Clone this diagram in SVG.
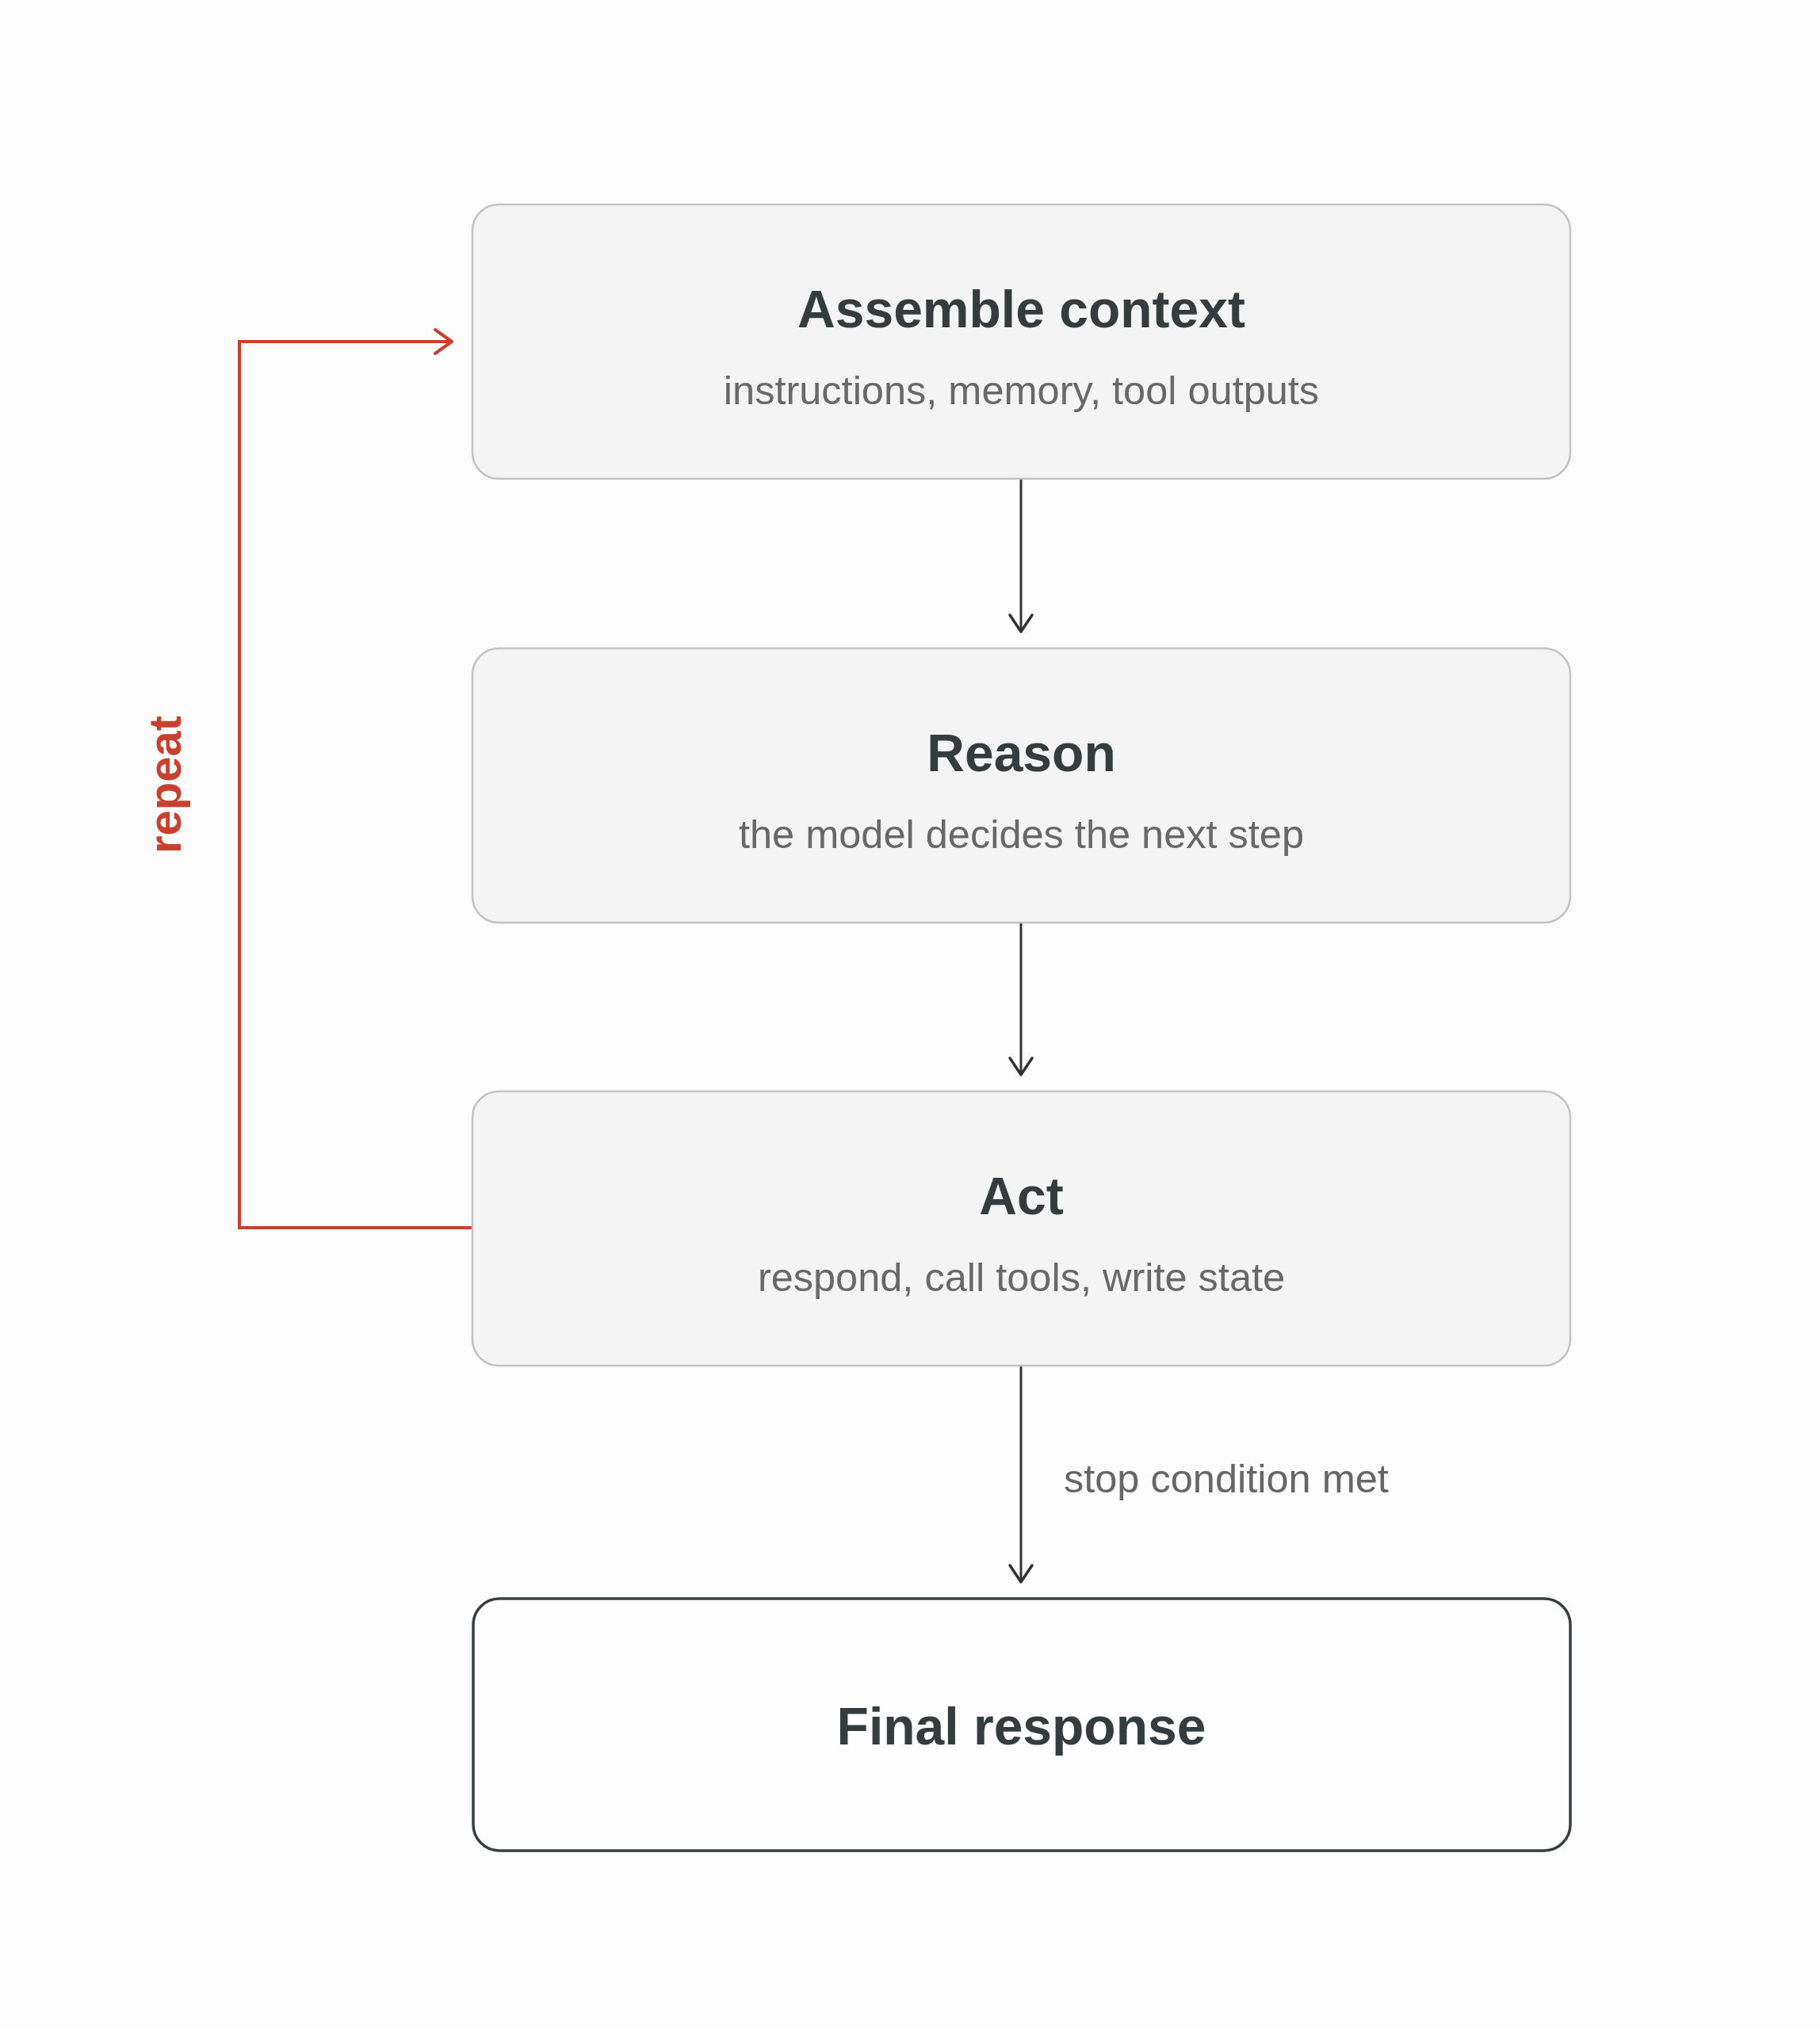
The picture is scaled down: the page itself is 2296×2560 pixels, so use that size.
<svg xmlns="http://www.w3.org/2000/svg" width="2296" height="2560" viewBox="0 0 2296 2560">
  <defs>
    <style>
      .box { fill: #f4f4f4; stroke: #c2c2c2; stroke-width: 2.5; }
      .final { fill: #fefefe; stroke: #383f40; stroke-width: 3.5; }
      .title { font-family: "Liberation Sans", Arial, sans-serif; font-weight: bold; font-size: 66px; fill: #353c3d; text-anchor: middle; }
      .sub { font-family: "Liberation Sans", Arial, sans-serif; font-size: 50.5px; fill: #686868; text-anchor: middle; }
      .edge { fill: none; stroke: #333333; stroke-width: 3; }
      .head { fill: none; stroke: #333333; stroke-width: 3.5; stroke-linecap: round; stroke-linejoin: round; }
      .loop { fill: none; stroke: #c8412f; stroke-width: 4; }
      .loophead { fill: none; stroke: #c8412f; stroke-width: 4; stroke-linecap: round; stroke-linejoin: round; }
      .label { font-family: "Liberation Sans", Arial, sans-serif; font-size: 50.5px; fill: #666666; }
      .repeat { font-family: "Liberation Sans", Arial, sans-serif; font-weight: bold; font-size: 58px; fill: #c8412f; text-anchor: middle; }
    </style>
  </defs>
  <rect x="0" y="0" width="2296" height="2560" fill="#fcfcfc"/>

  <g id="connectors">
    <line class="edge" x1="1288" y1="604" x2="1288" y2="796"/>
    <polyline class="head" points="1274,776 1288,797 1302,776"/>
    <line class="edge" x1="1288" y1="1164" x2="1288" y2="1355"/>
    <polyline class="head" points="1274,1335 1288,1356 1302,1335"/>
    <line class="edge" x1="1288" y1="1723" x2="1288" y2="1995"/>
    <polyline class="head" points="1274,1975 1288,1996 1302,1975"/>
    <text class="label" x="1342" y="1883">stop condition met</text>
    <polyline class="loop" points="596,1549 302,1549 302,431 569,431"/>
    <polyline class="loophead" points="549,416 570,431 549,446"/>
    <text class="repeat" transform="translate(228,990) rotate(-90)" x="0" y="0">repeat</text>
  </g>

  <g id="node-assemble">
    <rect class="box" x="596" y="258" width="1385" height="346" rx="33" ry="33"/>
    <text class="title" x="1288.5" y="413">Assemble context</text>
    <text class="sub" x="1288.5" y="510">instructions, memory, tool outputs</text>
  </g>

  <g id="node-reason">
    <rect class="box" x="596" y="818" width="1385" height="346" rx="33" ry="33"/>
    <text class="title" x="1288.5" y="973">Reason</text>
    <text class="sub" x="1288.5" y="1070">the model decides the next step</text>
  </g>

  <g id="node-act">
    <rect class="box" x="596" y="1377" width="1385" height="346" rx="33" ry="33"/>
    <text class="title" x="1288.5" y="1532">Act</text>
    <text class="sub" x="1288.5" y="1629">respond, call tools, write state</text>
  </g>

  <g id="node-final">
    <rect class="final" x="597" y="2017" width="1384" height="318" rx="33" ry="33"/>
    <text class="title" x="1288.5" y="2201">Final response</text>
  </g>
</svg>
